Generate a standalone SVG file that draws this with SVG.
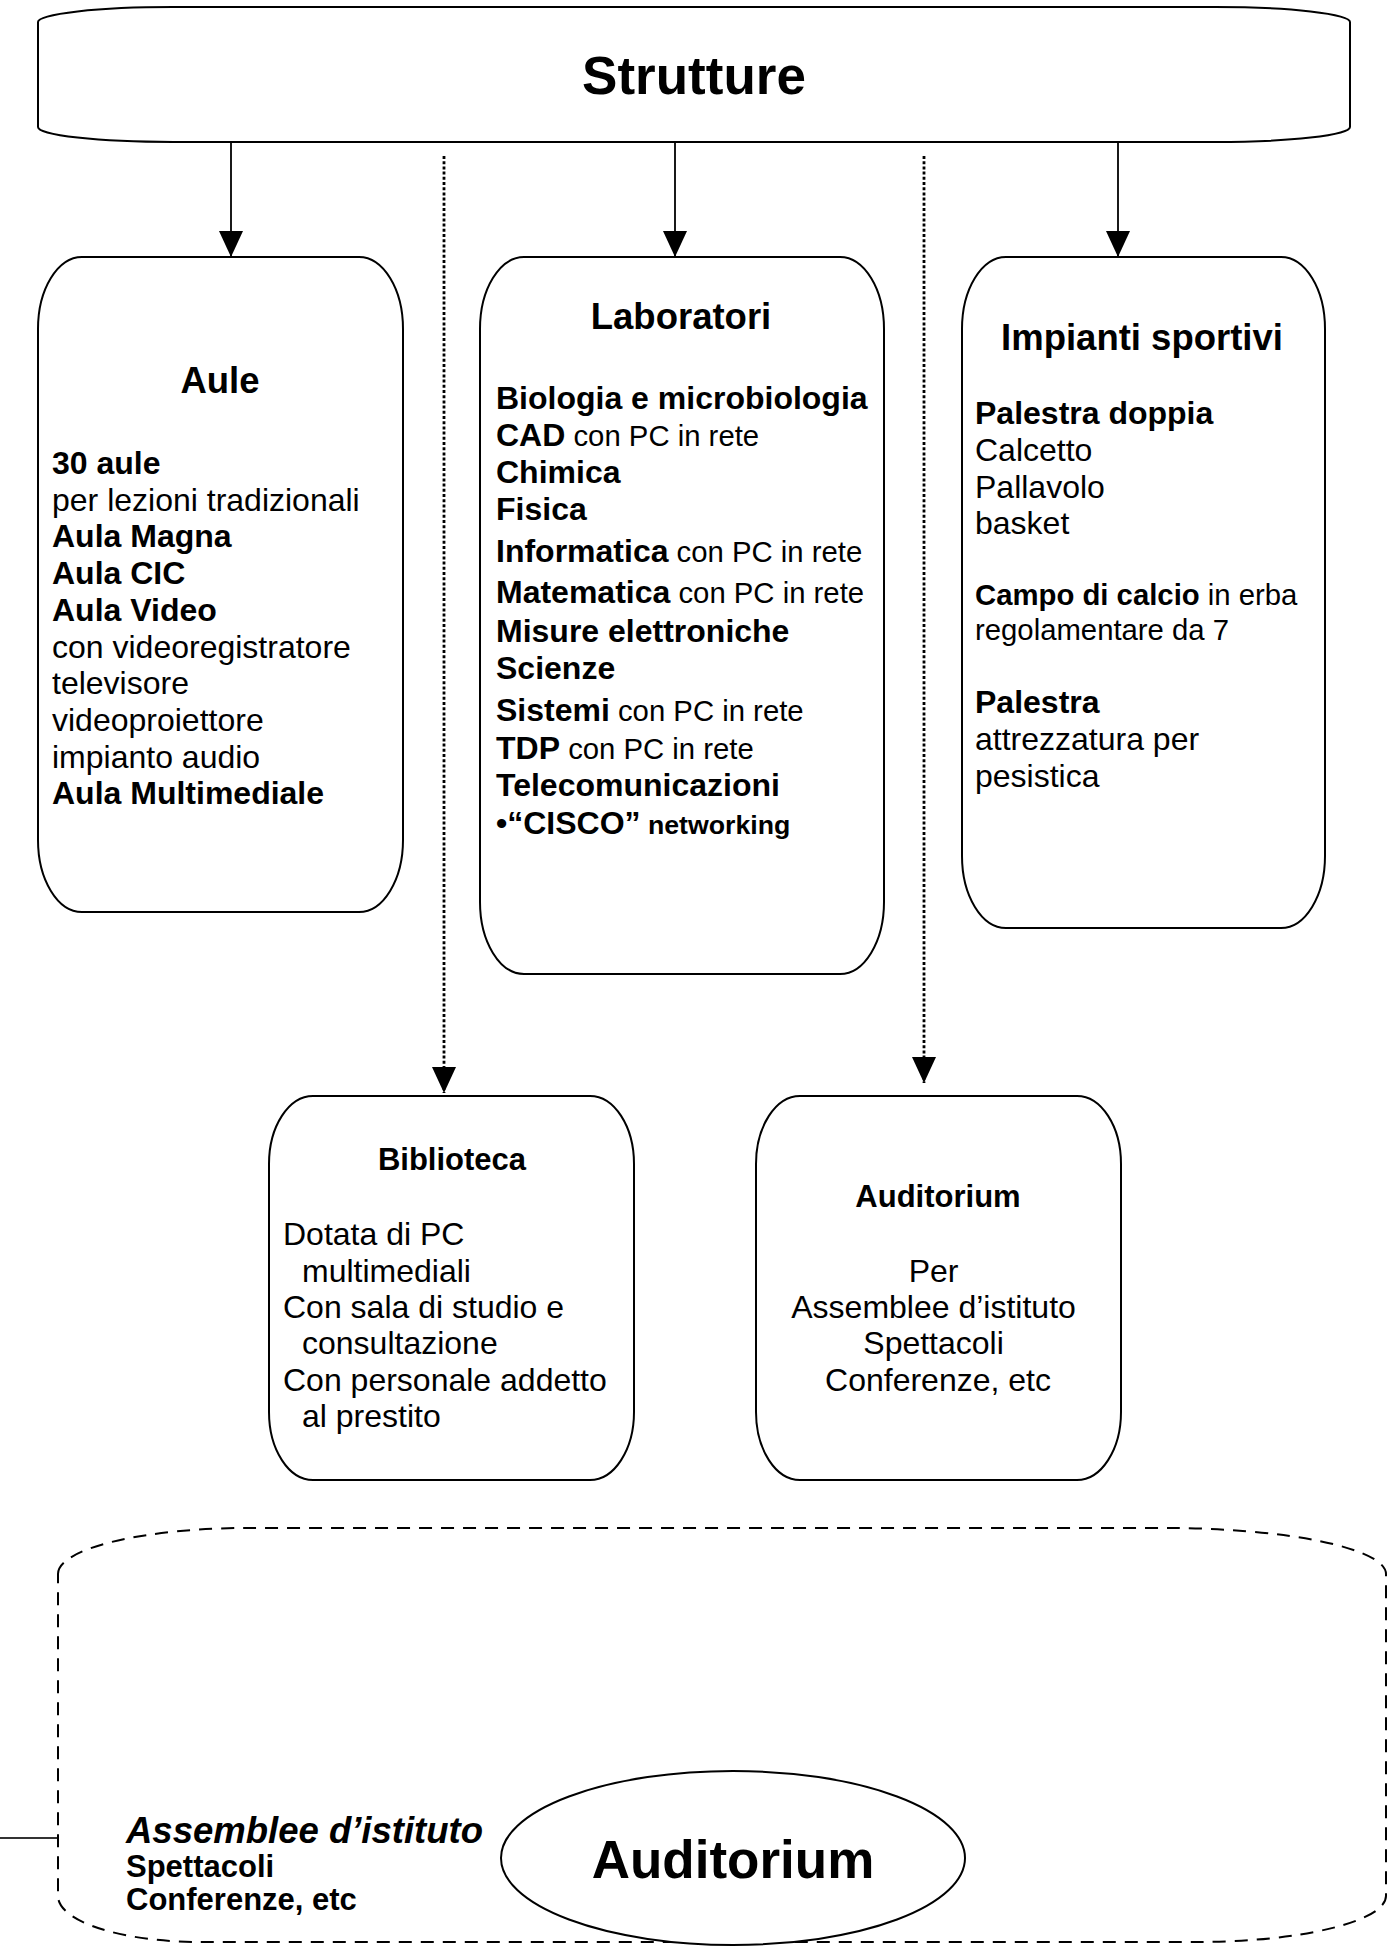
<svg xmlns="http://www.w3.org/2000/svg" width="1391" height="1946" viewBox="0 0 1391 1946">
  <style>
    text { font-family: "Liberation Sans", Arial, sans-serif; fill: #000; }
    .box { fill: #fff; stroke: #000; stroke-width: 2; }
    .b { font-weight: bold; }
    .big { font-size: 53px; font-weight: bold; }
    .title { font-size: 36.5px; font-weight: bold; }
    .sub { font-size: 31px; font-weight: bold; }
    .t32 { font-size: 32px; }
    .t29 { font-size: 29.3px; }
    .t27 { font-size: 26.7px; }
    .link { fill: none; stroke: #000; stroke-width: 1.8; }
    .dots { fill: none; stroke: #000; stroke-width: 2.8; stroke-dasharray: 3 2.2; }
    .dash { fill: none; stroke: #000; stroke-width: 2; stroke-dasharray: 13 9; }
  </style>
  <defs>
    <marker id="head" viewBox="0 0 26 24" refX="26" refY="12" markerWidth="26" markerHeight="24" markerUnits="userSpaceOnUse" orient="auto">
      <path d="M0,0 L26,12 L0,24 Z" fill="#000" stroke="none"/>
    </marker>
  </defs>

  <rect width="1391" height="1946" fill="#fff"/>

  <!-- connectors -->
  <g id="connectors">
    <line class="link" x1="231" y1="142" x2="231" y2="257" marker-end="url(#head)"/>
    <line class="link" x1="675" y1="142" x2="675" y2="257" marker-end="url(#head)"/>
    <line class="link" x1="1118" y1="142" x2="1118" y2="257" marker-end="url(#head)"/>
    <line class="dots" x1="444" y1="156" x2="444" y2="1093" marker-end="url(#head)"/>
    <line class="dots" x1="924" y1="156" x2="924" y2="1083" marker-end="url(#head)"/>
  </g>

  <!-- top node -->
  <g id="strutture">
    <path class="box" d="M38,22 A135 15 0 0 1 173,7 L1215,7 A135 15 0 0 1 1350,22 L1350,127 A135 15 0 0 1 1215,142 L173,142 A135 15 0 0 1 38,127 Z"/>
    <text class="big" x="694" y="94" text-anchor="middle">Strutture</text>
  </g>

  <g id="aule">
    <rect class="box" x="38" y="257" width="365" height="655" rx="44" ry="72"/>
    <text class="title" x="220" y="393" text-anchor="middle">Aule</text>
    <text class="t32" x="52">
      <tspan x="52" y="474" class="b">30 aule</tspan>
      <tspan x="52" y="510.7">per lezioni tradizionali</tspan>
      <tspan x="52" y="547.4" class="b">Aula Magna</tspan>
      <tspan x="52" y="584.1" class="b">Aula CIC</tspan>
      <tspan x="52" y="620.8" class="b">Aula Video</tspan>
      <tspan x="52" y="657.5">con videoregistratore</tspan>
      <tspan x="52" y="694.2">televisore</tspan>
      <tspan x="52" y="730.9">videoproiettore</tspan>
      <tspan x="52" y="767.6">impianto audio</tspan>
      <tspan x="52" y="804.3" class="b">Aula Multimediale</tspan>
    </text>
  </g>

  <g id="laboratori">
    <rect class="box" x="480" y="257" width="404" height="717" rx="44" ry="72"/>
    <text class="title" x="681" y="329" text-anchor="middle">Laboratori</text>
    <text class="t32 b" x="496" y="409">Biologia e microbiologia</text>
    <text class="t32" x="496" y="446"><tspan class="b">CAD</tspan><tspan class="t29"> con PC in rete</tspan></text>
    <text class="t32 b" x="496" y="483">Chimica</text>
    <text class="t32 b" x="496" y="520">Fisica</text>
    <text class="t32" x="496" y="562"><tspan class="b">Informatica</tspan><tspan class="t29"> con PC in rete</tspan></text>
    <text class="t32" x="496" y="603"><tspan class="b">Matematica</tspan><tspan class="t29"> con PC in rete</tspan></text>
    <text class="t32 b" x="496" y="642">Misure elettroniche</text>
    <text class="t32 b" x="496" y="679">Scienze</text>
    <text class="t32" x="496" y="721"><tspan class="b">Sistemi</tspan><tspan class="t29"> con PC in rete</tspan></text>
    <text class="t32" x="496" y="759"><tspan class="b">TDP</tspan><tspan class="t29"> con PC in rete</tspan></text>
    <text class="t32 b" x="496" y="796">Telecomunicazioni</text>
    <text class="t32 b" x="496" y="834">•“CISCO”<tspan class="t27"> networking</tspan></text>
  </g>

  <g id="impianti">
    <rect class="box" x="962" y="257" width="363" height="671" rx="44" ry="72"/>
    <text class="title" x="1142" y="350" text-anchor="middle">Impianti sportivi</text>
    <text class="t32 b" x="975" y="424">Palestra doppia</text>
    <text class="t32" x="975" y="461">Calcetto</text>
    <text class="t32" x="975" y="497.5">Pallavolo</text>
    <text class="t32" x="975" y="534">basket</text>
    <text class="t29" x="975" y="605"><tspan class="b">Campo di calcio</tspan> in erba</text>
    <text class="t29" x="975" y="640">regolamentare da 7</text>
    <text class="t32 b" x="975" y="713">Palestra</text>
    <text class="t32" x="975" y="750">attrezzatura per</text>
    <text class="t32" x="975" y="787">pesistica</text>
  </g>

  <g id="biblioteca">
    <rect class="box" x="269" y="1096" width="365" height="384" rx="44" ry="68"/>
    <text class="sub" x="452" y="1170" text-anchor="middle">Biblioteca</text>
    <text class="t32">
      <tspan x="283" y="1245">Dotata di PC</tspan>
      <tspan x="302" y="1281.5">multimediali</tspan>
      <tspan x="283" y="1318">Con sala di studio e</tspan>
      <tspan x="302" y="1354">consultazione</tspan>
      <tspan x="283" y="1390.5">Con personale addetto</tspan>
      <tspan x="302" y="1427">al prestito</tspan>
    </text>
  </g>

  <g id="auditorium-box">
    <rect class="box" x="756" y="1096" width="365" height="384" rx="44" ry="68"/>
    <text class="sub" x="938" y="1206.5" text-anchor="middle">Auditorium</text>
    <text class="t32" text-anchor="middle">
      <tspan x="938" y="1281.5">Per</tspan>
      <tspan x="938" y="1318">Assemblee d’istituto</tspan>
      <tspan x="938" y="1354">Spettacoli</tspan>
      <tspan x="938" y="1390.5">Conferenze, etc</tspan>
    </text>
  </g>

  <!-- lower dashed frame with the auditorium ellipse -->
  <g id="auditorium-area">
    <path class="dash" d="M58,1574 A190 46 0 0 1 248,1528 L1166,1528 A220 46 0 0 1 1386,1574 L1386,1896 A190 46 0 0 1 1196,1942 L200,1942 A142 46 0 0 1 58,1896 Z"/>
    <line x1="0" y1="1838" x2="57" y2="1838" stroke="#333" stroke-width="2"/>
    <text x="126" y="1843" font-size="36.5" font-weight="bold" font-style="italic">Assemblee d’istituto</text>
    <text class="b" x="126" y="1877" font-size="31">Spettacoli</text>
    <text class="b" x="126" y="1910" font-size="31">Conferenze, etc</text>
  </g>

  <g id="auditorium-ellipse">
    <ellipse class="box" cx="733" cy="1858" rx="232" ry="87" stroke-width="1.6"/>
    <text class="big" x="733" y="1878" text-anchor="middle">Auditorium</text>
  </g>
</svg>
